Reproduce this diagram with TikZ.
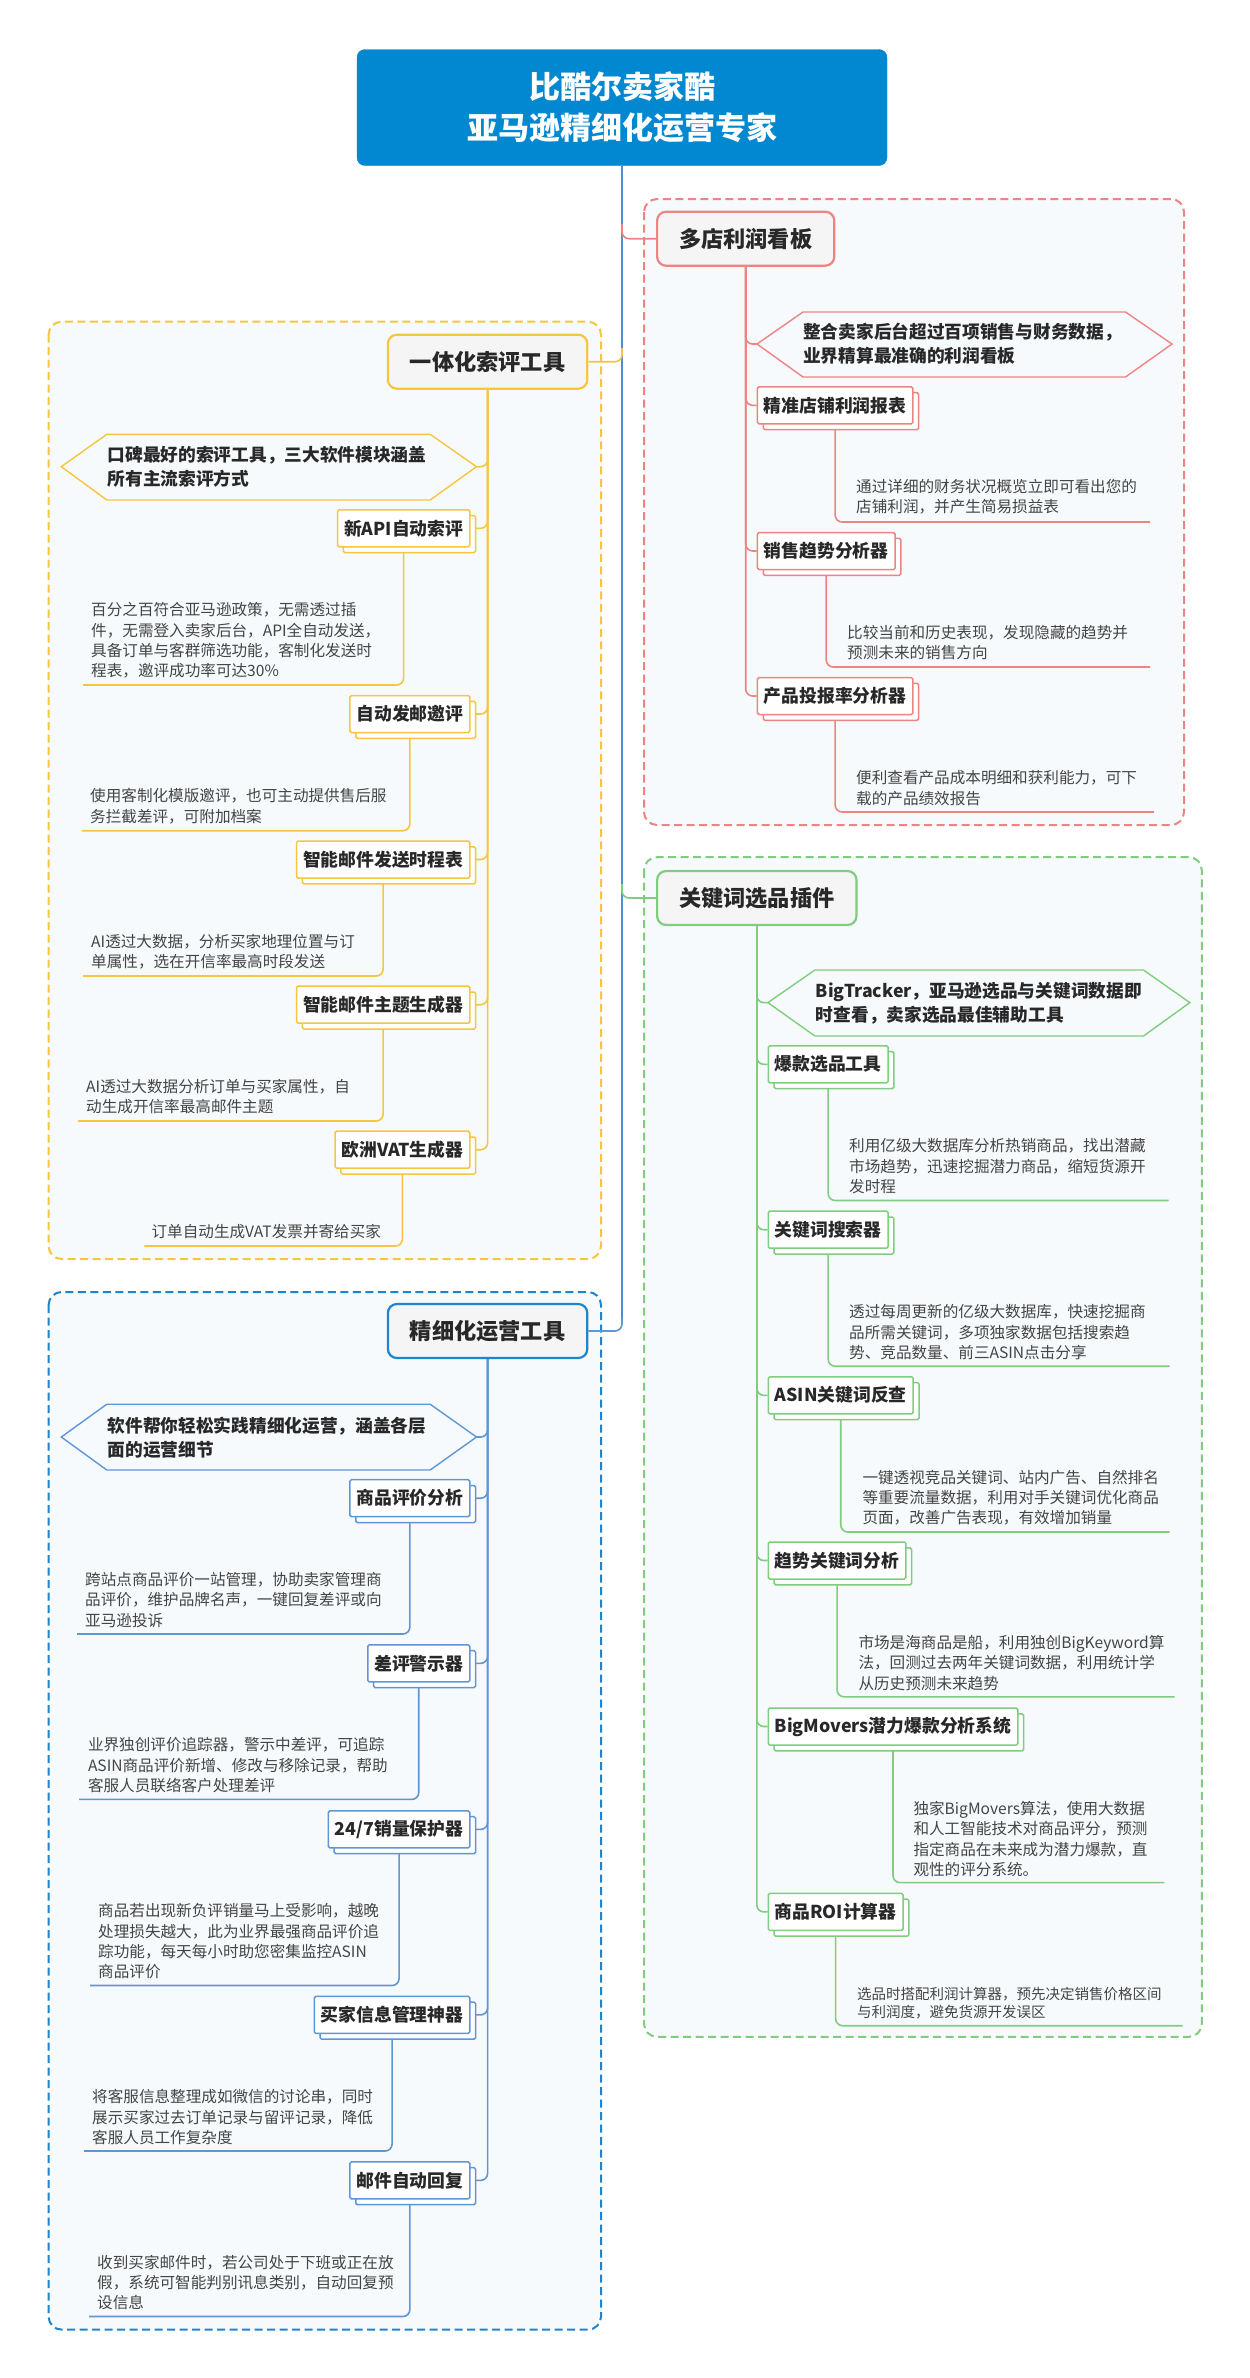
\documentclass[tikz,border=0pt]{standalone}
\usepackage{fontspec}
\setmainfont{Noto Sans CJK SC}
\usetikzlibrary{shadows}
\definecolor{rootblue}{RGB}{2,136,209}
\definecolor{trunkc}{RGB}{84,140,205}
\definecolor{cred}{RGB}{238,132,130}
\definecolor{cyel}{RGB}{246,198,64}
\definecolor{cgrn}{RGB}{128,205,128}
\definecolor{cblu}{RGB}{30,132,204}
\definecolor{cblul}{RGB}{95,150,212}
\definecolor{contfill}{RGB}{247,250,253}
\definecolor{brfill}{RGB}{245,245,245}
\definecolor{tdark}{RGB}{40,40,40}
\definecolor{tdesc}{RGB}{68,68,68}
\pgfdeclarelayer{back}
\pgfdeclarelayer{bg}
\pgfsetlayers{back,bg,main}
\tikzset{
  mmroot/.style={fill=rootblue, draw=rootblue, rounded corners=8pt, minimum width=530pt, minimum height=116pt, inner sep=0pt, align=center, text=white, font=\bfseries\fontsize{31}{41}\selectfont},
  mmbranch/.style={draw=#1, line width=2.2pt, fill=brfill, rounded corners=9pt, minimum height=54pt, inner xsep=22pt, inner ysep=0pt, text=tdark, font=\bfseries\fontsize{22.2}{26}\selectfont},
  mmsub/.style={draw=#1, line width=1.5pt, fill=white, rounded corners=1.5pt, minimum height=37pt, inner xsep=6.5pt, inner ysep=0pt, text=tdark, font=\bfseries\fontsize{17.8}{22}\selectfont, copy shadow={shadow xshift=5.8pt, shadow yshift=-5.8pt}},
  mmdesc/.style={inner sep=0pt, text width=340pt, align=left, text=tdesc, font=\fontsize{15.6}{20.3}\selectfont},
  mmhextext/.style={inner sep=0pt, text width=340pt, align=left, text=tdark, font=\bfseries\fontsize{17.7}{23.5}\selectfont},
  mmhex/.style={draw=#1, line width=1.4pt, fill=contfill},
  mmconn/.style={draw=#1, line width=1.6pt, rounded corners=7pt},
  mmcont/.style={draw=#1, line width=2pt, dash pattern=on 8pt off 4.5pt, fill=contfill, rounded corners=13pt},
  mmtrunk/.style={draw=trunkc, line width=1.8pt},
}
\begin{document}
\begin{tikzpicture}[x=1pt,y=-1pt]
\begin{pgfonlayer}{back}
\fill[white] (0,0) rectangle (1250,2378);
\end{pgfonlayer}
\useasboundingbox (0,0) rectangle (1250,2378);

% ---------- containers ----------
\begin{pgfonlayer}{bg}
\draw[mmcont=cred] (644,199) rectangle (1184,825);
\draw[mmcont=cyel] (48.6,321.7) rectangle (601,1259);
\draw[mmcont=cgrn] (644,857.2) rectangle (1201.8,2036.8);
\draw[mmcont=cblu] (48.6,1292) rectangle (601,2329.6);
\end{pgfonlayer}

% ---------- root and trunk ----------
\node[mmroot] (root) at (622,107.5) {比酷尔卖家酷\\亚马逊精细化运营专家};
\coordinate (tR) at (622,224);
\coordinate (tY) at (622,348);
\coordinate (tG) at (622,884);
\coordinate (tEnd) at (622,1318);

% ---------- branch nodes ----------
\node[mmbranch=cred, anchor=west] (R0) at (656,238.7) {多店利润看板};
\node[mmbranch=cyel, anchor=east] (Y0) at (588.4,361.7) {一体化索评工具};
\node[mmbranch=cgrn, anchor=west] (G0) at (656,898) {关键词选品插件};
\node[mmbranch=cblu, anchor=east] (B0) at (588.4,1331) {精细化运营工具};

% ---------- hexagons ----------
\coordinate (RH) at (757,344);
\draw[mmhex=cred] (RH) -- (803,312) -- (1125.5,312) -- (1172,344) -- (1125.5,377) -- (803,377) -- cycle;
\node[mmhextext, anchor=base west] (RHt) at (803,338.7) {整合卖家后台超过百项销售与财务数据，\\业界精算最准确的利润看板};
\coordinate (YH) at (476.5,466.7);
\draw[mmhex=cyel] (61.3,466.7) -- (106.8,434.3) -- (430.2,434.3) -- (YH) -- (430.2,500) -- (106.8,500) -- cycle;
\node[mmhextext, anchor=base west] (YHt) at (107.5,461.7) {口碑最好的索评工具，三大软件模块涵盖\\所有主流索评方式};
\coordinate (GH) at (767.9,1002.6);
\draw[mmhex=cgrn] (GH) -- (814.9,970) -- (1143.5,970) -- (1189.8,1002.6) -- (1143.5,1036) -- (814.9,1036) -- cycle;
\node[mmhextext, anchor=base west] (GHt) at (815.7,997.7) {BigTracker，亚马逊选品与关键词数据即\\时查看，卖家选品最佳辅助工具};
\coordinate (BH) at (476.5,1437);
\draw[mmhex=cblul] (61.3,1437) -- (106.8,1404.2) -- (430.2,1404.2) -- (BH) -- (430.2,1470) -- (106.8,1470) -- cycle;
\node[mmhextext, anchor=base west] (BHt) at (107.5,1432.7) {软件帮你轻松实践精细化运营，涵盖各层\\面的运营细节};

% ---------- red children ----------
\node[mmsub=cred, anchor=west] (R1) at (756.7,405.3) {精准店铺利润报表};
\node[mmsub=cred, anchor=west] (R2) at (756.7,551) {销售趋势分析器};
\node[mmsub=cred, anchor=west] (R3) at (756.7,696) {产品投报率分析器};
\node[mmdesc, anchor=base west] (DR1) at (856,492.6) {通过详细的财务状况概览立即可看出您的\\店铺利润，并产生简易损益表};
\node[mmdesc, anchor=base west] (DR2) at (847,638.5) {比较当前和历史表现，发现隐藏的趋势并\\预测未来的销售方向};
\node[mmdesc, anchor=base west] (DR3) at (856,783.9) {便利查看产品成本明细和获利能力，可下\\载的产品绩效报告};
\coordinate (DR1e) at (1150,522);
\coordinate (DR2e) at (1150,667);
\coordinate (DR3e) at (1154,812);

% ---------- yellow children ----------
\node[mmsub=cyel, anchor=east] (Y1) at (470.5,528.3) {新API自动索评};
\node[mmsub=cyel, anchor=east] (Y2) at (470.5,714) {自动发邮邀评};
\node[mmsub=cyel, anchor=east] (Y3) at (470.5,859.5) {智能邮件发送时程表};
\node[mmsub=cyel, anchor=east] (Y4) at (470.5,1004.7) {智能邮件主题生成器};
\node[mmsub=cyel, anchor=east] (Y5) at (470.5,1149.7) {欧洲VAT生成器};
\node[mmdesc, anchor=base west] (DY1) at (91,615.9) {百分之百符合亚马逊政策，无需透过插\\件，无需登入卖家后台，API全自动发送，\\具备订单与客群筛选功能，客制化发送时\\程表，邀评成功率可达30\%};
\node[mmdesc, anchor=base west] (DY2) at (90,801.9) {使用客制化模版邀评，也可主动提供售后服\\务拦截差评，可附加档案};
\node[mmdesc, anchor=base west] (DY3) at (91,947.6) {AI透过大数据，分析买家地理位置与订\\单属性，选在开信率最高时段发送};
\node[mmdesc, anchor=base west] (DY4) at (86,1092.6) {AI透过大数据分析订单与买家属性，自\\动生成开信率最高邮件主题};
\node[mmdesc, anchor=base west] (DY5) at (151.4,1237.6) {订单自动生成VAT发票并寄给买家};
\coordinate (DY1e) at (83,685);
\coordinate (DY2e) at (82,830.7);
\coordinate (DY3e) at (83,976);
\coordinate (DY4e) at (78,1121);
\coordinate (DY5e) at (144.3,1246);

% ---------- green children ----------
\node[mmsub=cgrn, anchor=west] (G1) at (767.5,1064.3) {爆款选品工具};
\node[mmsub=cgrn, anchor=west] (G2) at (767.5,1229.7) {关键词搜索器};
\node[mmsub=cgrn, anchor=west] (G3) at (767.5,1395.3) {ASIN关键词反查};
\node[mmsub=cgrn, anchor=west] (G4) at (767.5,1560.5) {趋势关键词分析};
\node[mmsub=cgrn, anchor=west] (G5) at (767.5,1726.5) {BigMovers潜力爆款分析系统};
\node[mmsub=cgrn, anchor=west] (G6) at (767.5,1911.9) {商品ROI计算器};
\node[mmdesc, anchor=base west] (DG1) at (849,1151.9) {利用亿级大数据库分析热销商品，找出潜藏\\市场趋势，迅速挖掘潜力商品，缩短货源开\\发时程};
\node[mmdesc, anchor=base west] (DG2) at (849,1317.8) {透过每周更新的亿级大数据库，快速挖掘商\\品所需关键词，多项独家数据包括搜索趋\\势、竞品数量、前三ASIN点击分享};
\node[mmdesc, anchor=base west] (DG3) at (862.3,1483.2) {一键透视竞品关键词、站内广告、自然排名\\等重要流量数据，利用对手关键词优化商品\\页面，改善广告表现，有效增加销量};
\node[mmdesc, anchor=base west] (DG4) at (858.3,1648.5) {市场是海商品是船，利用独创BigKeyword算\\法，回测过去两年关键词数据，利用统计学\\从历史预测未来趋势};
\node[mmdesc, anchor=base west] (DG5) at (913.3,1814.6) {独家BigMovers算法，使用大数据\\和人工智能技术对商品评分，预测\\指定商品在未来成为潜力爆款，直\\观性的评分系统。};
\node[mmdesc, anchor=base west, font=\fontsize{14.5}{18}\selectfont] (DG6) at (857,1999.8) {选品时搭配利润计算器，预先决定销售价格区间\\与利润度，避免货源开发误区};
\coordinate (DG1e) at (1168.5,1200.5);
\coordinate (DG2e) at (1169.6,1366.2);
\coordinate (DG3e) at (1169.6,1532);
\coordinate (DG4e) at (1174.5,1696.8);
\coordinate (DG5e) at (1164.4,1882.6);
\coordinate (DG6e) at (1182.5,2025.7);

% ---------- blue children ----------
\node[mmsub=cblul, anchor=east] (B1) at (470.5,1498.2) {商品评价分析};
\node[mmsub=cblul, anchor=east] (B2) at (470.5,1663.3) {差评警示器};
\node[mmsub=cblul, anchor=east] (B3) at (470.5,1829.4) {24/7销量保护器};
\node[mmsub=cblul, anchor=east] (B4) at (470.5,2014.9) {买家信息管理神器};
\node[mmsub=cblul, anchor=east] (B5) at (470.5,2180.4) {邮件自动回复};
\node[mmdesc, anchor=base west] (DB1) at (85,1585.4) {跨站点商品评价一站管理，协助卖家管理商\\品评价，维护品牌名声，一键回复差评或向\\亚马逊投诉};
\node[mmdesc, anchor=base west] (DB2) at (87.8,1750.7) {业界独创评价追踪器，警示中差评，可追踪\\ASIN商品评价新增、修改与移除记录，帮助\\客服人员联络客户处理差评};
\node[mmdesc, anchor=base west] (DB3) at (98,1916.7) {商品若出现新负评销量马上受影响，越晚\\处理损失越大，此为业界最强商品评价追\\踪功能，每天每小时助您密集监控ASIN\\商品评价};
\node[mmdesc, anchor=base west] (DB4) at (92,2102.8) {将客服信息整理成如微信的讨论串，同时\\展示买家过去订单记录与留评记录，降低\\客服人员工作复杂度};
\node[mmdesc, anchor=base west] (DB5) at (97,2268.3) {收到买家邮件时，若公司处于下班或正在放\\假，系统可智能判别讯息类别，自动回复预\\设信息};
\coordinate (DB1e) at (77,1634);
\coordinate (DB2e) at (79,1799.4);
\coordinate (DB3e) at (90,1985.5);
\coordinate (DB4e) at (84,2151);
\coordinate (DB5e) at (89,2316.5);

% ---------- connectors ----------
\begin{pgfonlayer}{bg}
\draw[mmtrunk] (root.south) -- (tEnd);
\draw[mmconn=cred] (tR) |- (R0.west);
\draw[mmconn=cyel] (Y0.east) -| (tY);
\draw[mmconn=cgrn] (tG) |- (G0.west);
\draw[mmconn=cblul] (B0.east) -| (tEnd);
% red
\draw[mmconn=cred] (R0.south) |- (RH);
\draw[mmconn=cred] (R0.south) |- (R1.west);
\draw[mmconn=cred] (R0.south) |- (R2.west);
\draw[mmconn=cred] (R0.south) |- (R3.west);
\draw[mmconn=cred] (R1.south) |- (DR1e);
\draw[mmconn=cred] (R2.south) |- (DR2e);
\draw[mmconn=cred] (R3.south) |- (DR3e);
% yellow
\draw[mmconn=cyel] (Y0.south) |- (YH);
\draw[mmconn=cyel] (Y0.south) |- (Y1.east);
\draw[mmconn=cyel] (Y0.south) |- (Y2.east);
\draw[mmconn=cyel] (Y0.south) |- (Y3.east);
\draw[mmconn=cyel] (Y0.south) |- (Y4.east);
\draw[mmconn=cyel] (Y0.south) |- (Y5.east);
\draw[mmconn=cyel] (Y1.south) |- (DY1e);
\draw[mmconn=cyel] (Y2.south) |- (DY2e);
\draw[mmconn=cyel] (Y3.south) |- (DY3e);
\draw[mmconn=cyel] (Y4.south) |- (DY4e);
\draw[mmconn=cyel] (Y5.south) |- (DY5e);
% green
\draw[mmconn=cgrn] (G0.south) |- (GH);
\draw[mmconn=cgrn] (G0.south) |- (G1.west);
\draw[mmconn=cgrn] (G0.south) |- (G2.west);
\draw[mmconn=cgrn] (G0.south) |- (G3.west);
\draw[mmconn=cgrn] (G0.south) |- (G4.west);
\draw[mmconn=cgrn] (G0.south) |- (G5.west);
\draw[mmconn=cgrn] (G0.south) |- (G6.west);
\draw[mmconn=cgrn] (G1.south) |- (DG1e);
\draw[mmconn=cgrn] (G2.south) |- (DG2e);
\draw[mmconn=cgrn] (G3.south) |- (DG3e);
\draw[mmconn=cgrn] (G4.south) |- (DG4e);
\draw[mmconn=cgrn] (G5.south) |- (DG5e);
\draw[mmconn=cgrn] (G6.south) |- (DG6e);
% blue
\draw[mmconn=cblul] (B0.south) |- (BH);
\draw[mmconn=cblul] (B0.south) |- (B1.east);
\draw[mmconn=cblul] (B0.south) |- (B2.east);
\draw[mmconn=cblul] (B0.south) |- (B3.east);
\draw[mmconn=cblul] (B0.south) |- (B4.east);
\draw[mmconn=cblul] (B0.south) |- (B5.east);
\draw[mmconn=cblul] (B1.south) |- (DB1e);
\draw[mmconn=cblul] (B2.south) |- (DB2e);
\draw[mmconn=cblul] (B3.south) |- (DB3e);
\draw[mmconn=cblul] (B4.south) |- (DB4e);
\draw[mmconn=cblul] (B5.south) |- (DB5e);
\end{pgfonlayer}
\end{tikzpicture}
\end{document}
